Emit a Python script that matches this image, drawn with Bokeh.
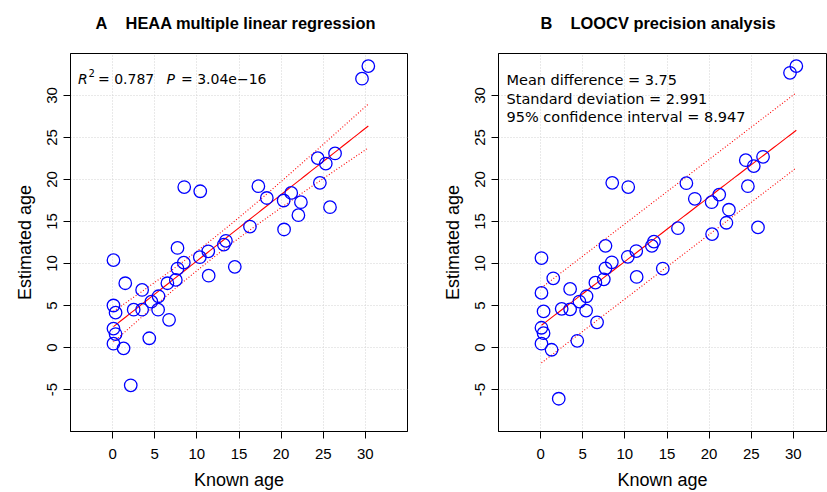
import numpy as np
from bokeh.plotting import figure
from bokeh.models import Range1d, FixedTicker, Label, Title
from bokeh.layouts import row
from bokeh.embed import file_html
from bokeh.resources import INLINE

# ---------------- data ----------------
known_age = [0.1, 0.1, 0.35, 0.1, 0.35, 0.1, 1.3, 2.15, 1.5, 2.5, 3.5, 3.5,
             4.35, 4.6, 5.45, 5.4, 6.5, 6.7, 7.5, 7.7, 7.7, 8.45, 8.5, 10.35,
             10.4, 11.35, 11.4, 13.2, 13.45, 14.5, 16.3, 17.3, 18.3, 20.3, 20.35, 21.2,
             22.05, 22.35, 24.35, 24.6, 25.3, 25.8, 26.4, 29.6, 30.35]
est_mlr = [10.4, 5.0, 4.15, 2.25, 1.6, 0.45, -0.1, -4.5, 7.65, 4.5, 6.85, 4.5,
           1.1, 5.45, 6.1, 4.5, 7.65, 3.3, 8.05, 9.4, 11.85, 10.1, 19.1, 10.75,
           18.6, 11.45, 8.55, 12.25, 12.7, 9.6, 14.4, 19.2, 17.8, 17.5, 14.05, 18.4,
           15.75, 17.3, 22.55, 19.6, 21.9, 16.7, 23.1, 32.0, 33.5]
est_loocv = [10.65, 6.5, 4.3, 2.35, 1.7, 0.45, -0.27, -6.1, 8.24, 4.6, 6.97, 4.55,
             0.8, 5.47, 6.1, 4.4, 7.72, 3.0, 8.12, 9.43, 12.1, 10.14, 19.6, 10.8,
             19.1, 11.48, 8.4, 12.1, 12.6, 9.4, 14.2, 19.56, 17.7, 17.3, 13.5, 18.2,
             14.85, 16.4, 22.3, 19.2, 21.6, 14.3, 22.7, 32.7, 33.5]

x_ticks = [0, 5, 10, 15, 20, 25, 30]
x_tick_labels = ["0", "5", "10", "15", "20", "25", "30"]
y_ticks = [-5, 0, 5, 10, 15, 20, 25, 30]
y_tick_labels = ["-5", "0", "5", "10", "15", "20", "25", "30"]

title_a_letter, title_a_text = "A", "HEAA multiple linear regression"
title_b_letter, title_b_text = "B", "LOOCV precision analysis"
r2_text, p_text = "= 0.787", "= 3.04e\u221216"
loocv_lines = ["Mean difference = 3.75",
               "Standard deviation = 2.991",
               "95% confidence interval = 8.947"]
ci_width = 8.947
t975 = 2.0167  # t quantile, df = n - 2

# ---------------- geometry ----------------
H = 492
TOP, BOTTOM = 53, 60
Y0, Y1 = -10, 35
SX = 337 / 40.0          # px per x unit
SY = 379 / 45.0          # px per y unit

TICK_FONT = "Liberation Sans"
ANN_FONT = "DejaVu Sans"
NBSP = "\u00a0"
GAP = NBSP * 4


def make_panel(width, left, right, x0, letter, text, title_offset):
    frame_w = width - left - right
    x1 = x0 + frame_w / SX
    p = figure(width=width, height=H, title=None,
               x_range=Range1d(x0, x1), y_range=Range1d(Y0, Y1),
               output_backend="svg", toolbar_location=None,
               min_border_left=left, min_border_right=right,
               min_border_top=TOP, min_border_bottom=BOTTOM,
               background_fill_color="white", border_fill_color="white")
    p.outline_line_color = "black"
    p.outline_line_width = 1
    p.outline_line_alpha = 1

    p.xaxis.ticker = FixedTicker(ticks=x_ticks)
    p.xaxis.major_label_overrides = dict(zip(x_ticks, x_tick_labels))
    p.yaxis.ticker = FixedTicker(ticks=y_ticks)
    p.yaxis.major_label_overrides = dict(zip(y_ticks, y_tick_labels))
    for ax in (p.xaxis, p.yaxis):
        ax.axis_line_color = "black"
        ax.major_tick_line_color = "black"
        ax.major_tick_in = 0
        ax.major_tick_out = 7
        ax.minor_tick_line_color = None
        ax.major_label_text_font = TICK_FONT
        ax.major_label_text_font_size = "15px"
        ax.major_label_text_color = "black"
        ax.axis_label_text_font = TICK_FONT
        ax.axis_label_text_font_size = "18px"
        ax.axis_label_text_font_style = "normal"
        ax.axis_label_text_color = "black"
    p.xaxis.major_label_standoff = 10
    p.xaxis.axis_label = "Known age"
    p.xaxis.axis_label_standoff = 8
    p.yaxis.major_label_standoff = 7
    p.yaxis.major_label_orientation = "vertical"
    p.yaxis.axis_label = "Estimated age"
    p.yaxis.axis_label_standoff = 9

    p.grid.grid_line_color = "#d3d3d3"
    p.grid.grid_line_dash = "1 2"
    p.grid.grid_line_width = 1

    # blank spacer next to the frame, then the panel title above it
    p.add_layout(Title(text=NBSP, text_font=TICK_FONT, text_font_size="16.4px",
                       text_color="black", standoff=2), "above")
    p.add_layout(Title(text=letter + GAP + text, text_font=TICK_FONT,
                       text_font_size="16.4px", text_font_style="bold",
                       text_color="black", align="left", offset=title_offset,
                       standoff=0), "above")
    return p


def px_x(px, frame_left, x0):
    return x0 + (px - frame_left) / SX


def px_y(py):
    return Y1 - (py - TOP) / SY


def add_text(p, x, y, text, font, size, style="normal"):
    p.add_layout(Label(x=x, y=y, text=text, text_font=font, text_font_size=size,
                       text_font_style=style, text_baseline="alphabetic",
                       text_align="left", text_color="black"))


x = np.array(known_age, dtype=float)
xs = np.linspace(x.min(), x.max(), 80)
n = len(x)

# ---------------- panel A ----------------
pa = make_panel(430, 70, 23, -5.0, title_a_letter, title_a_text, 25)
ya = np.array(est_mlr, dtype=float)
b1, b0 = np.polyfit(x, ya, 1)
res = ya - (b0 + b1 * x)
s = np.sqrt(np.sum(res ** 2) / (n - 2))
sxx = np.sum((x - x.mean()) ** 2)
fit_a = b0 + b1 * xs
half_a = t975 * s * np.sqrt(1.0 / n + (xs - x.mean()) ** 2 / sxx)
pa.line(xs, fit_a, line_color="red", line_width=1.1)
pa.line(xs, fit_a + half_a, line_color="red", line_width=1.1, line_dash="1 2")
pa.line(xs, fit_a - half_a, line_color="red", line_width=1.1, line_dash="1 2")
pa.scatter(known_age, est_mlr, size=12.5, marker="circle", fill_color=None,
           line_color="blue", line_width=1.3)

FLA = 70
add_text(pa, px_x(77.5, FLA, -5), px_y(79), "R", ANN_FONT, "14px", "italic")
add_text(pa, px_x(88, FLA, -5), px_y(72.5), "2", ANN_FONT, "10px")
add_text(pa, px_x(97.5, FLA, -5), px_y(79), r2_text, ANN_FONT, "14px")
add_text(pa, px_x(166, FLA, -5), px_y(79), "P", ANN_FONT, "14px", "italic")
add_text(pa, px_x(180.5, FLA, -5), px_y(79), p_text, ANN_FONT, "14px")

# ---------------- panel B ----------------
pb = make_panel(397, 68, 1, -5.0, title_b_letter, title_b_text, 42)
yb = np.array(est_loocv, dtype=float)
c1, c0 = np.polyfit(x, yb, 1)
fit_b = c0 + c1 * xs
pb.line(xs, fit_b, line_color="red", line_width=1.1)
pb.line(xs, fit_b + ci_width / 2, line_color="red", line_width=1.1, line_dash="1 2")
pb.line(xs, fit_b - ci_width / 2, line_color="red", line_width=1.1, line_dash="1 2")
pb.scatter(known_age, est_loocv, size=12.5, marker="circle", fill_color=None,
           line_color="blue", line_width=1.3)

FLB = 498
for i, t in enumerate(loocv_lines):
    add_text(pb, px_x(506, FLB, -5), px_y(80 + 18.5 * i), t, ANN_FONT, "14.5px")

layout = row(pa, pb)
open("out.html", "w").write(file_html(layout, INLINE))
